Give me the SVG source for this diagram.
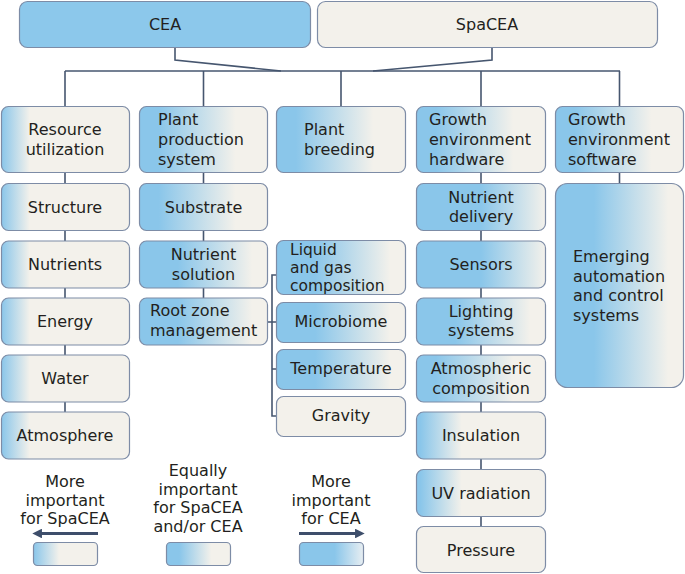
<svg xmlns="http://www.w3.org/2000/svg" width="685" height="574" viewBox="0 0 685 574">
<defs>
<style>
.bx{stroke:#7d8ca6;stroke-width:1.2}
.t{font-family:"DejaVu Sans","Noto Sans",sans-serif;font-size:16px;fill:#231f20}
.s{font-size:15.5px}
.c{text-anchor:middle}
.ln{fill:none;stroke:#46566f;stroke-width:1.6}
.ar{fill:none;stroke:#3e4e6b;stroke-width:3}
</style>
<linearGradient id="gA"><stop offset="0" stop-color="#8ac6ea"/><stop offset="0.22" stop-color="#f3f1eb"/></linearGradient>
<linearGradient id="gB"><stop offset="0.03" stop-color="#8ac6ea"/><stop offset="0.35" stop-color="#f3f1eb"/></linearGradient>
<linearGradient id="gC"><stop offset="0.15" stop-color="#8ac6ea"/><stop offset="0.75" stop-color="#f3f1eb"/></linearGradient>
<linearGradient id="gD"><stop offset="0.3" stop-color="#8ac6ea"/><stop offset="0.88" stop-color="#f3f1eb"/></linearGradient>
<linearGradient id="gE"><stop offset="0.5" stop-color="#8ac6ea"/><stop offset="1" stop-color="#f3f1eb"/></linearGradient>
<linearGradient id="lgL"><stop offset="0" stop-color="#8ac6ea"/><stop offset="0.4" stop-color="#f3f1eb"/></linearGradient>
<linearGradient id="lgM"><stop offset="0.2" stop-color="#8ac6ea"/><stop offset="0.7" stop-color="#f3f1eb"/></linearGradient>
<linearGradient id="lgR"><stop offset="0.55" stop-color="#8ac6ea"/><stop offset="1" stop-color="#e8eef2"/></linearGradient>
<marker id="ah" viewBox="0 0 10 10" refX="2" refY="5" markerWidth="3.2" markerHeight="3.2" orient="auto-start-reverse"><path d="M0,0 L10,5 L0,10 Z" fill="#3e4e6b"/></marker>
</defs>
<rect width="685" height="574" fill="#ffffff"/>

<g id="connectors">
<path class="ln" d="M175,47 V60 L281,71 M492,47 V60 L373,71"/>
<path class="ln" d="M65,71 H620"/>
<path class="ln" d="M65,71 V412"/>
<path class="ln" d="M203.5,71 V298"/>
<path class="ln" d="M341,71 V106"/>
<path class="ln" d="M481,71 V527"/>
<path class="ln" d="M619.5,71 V183"/>
<path class="ln" d="M277,275 H272 V416 H277 M268,322 H277 M272,369 H277"/>
</g>

<g id="cea"><rect class="bx" x="19.5" y="1.5" width="291" height="46" rx="8" fill="#8cc8eb"/><text class="t c" x="165" y="30">CEA</text></g>
<g id="spacea"><rect class="bx" x="317.5" y="1.5" width="340" height="46" rx="8" fill="#f3f1eb"/><text class="t c" x="487" y="30">SpaCEA</text></g>

<g id="resource"><rect class="bx" x="1.5" y="106.5" width="128" height="66" rx="7" fill="url(#gA)"/><text class="t c" x="65" y="135">Resource</text><text class="t c" x="65" y="155">utilization</text></g>
<g id="structure"><rect class="bx" x="1.5" y="183.5" width="128" height="47" rx="7" fill="url(#gA)"/><text class="t c" x="65" y="212.5">Structure</text></g>
<g id="nutrients"><rect class="bx" x="1.5" y="241" width="128" height="47" rx="7" fill="url(#gA)"/><text class="t c" x="65" y="270">Nutrients</text></g>
<g id="energy"><rect class="bx" x="1.5" y="298" width="128" height="47" rx="7" fill="url(#gA)"/><text class="t c" x="65" y="327">Energy</text></g>
<g id="water"><rect class="bx" x="1.5" y="355" width="128" height="47" rx="7" fill="url(#gA)"/><text class="t c" x="65" y="384">Water</text></g>
<g id="atmosphere"><rect class="bx" x="1.5" y="412" width="128" height="47" rx="7" fill="url(#gA)"/><text class="t c" x="65" y="441">Atmosphere</text></g>

<g id="plantprod"><rect class="bx" x="139.5" y="106.5" width="128" height="66" rx="7" fill="url(#gC)"/><text class="t" x="158" y="125">Plant</text><text class="t" x="158" y="145">production</text><text class="t" x="158" y="165">system</text></g>
<g id="substrate"><rect class="bx" x="139.5" y="183.5" width="128" height="47" rx="7" fill="url(#gC)"/><text class="t c" x="203.5" y="212.5">Substrate</text></g>
<g id="nutsol"><rect class="bx" x="139.5" y="241" width="128" height="47" rx="7" fill="url(#gD)"/><text class="t c" x="203.5" y="260">Nutrient</text><text class="t c" x="203.5" y="279.5">solution</text></g>
<g id="rootzone"><rect class="bx" x="139.5" y="298" width="128" height="47" rx="7" fill="url(#gD)"/><text class="t" x="150" y="316">Root zone</text><text class="t" x="150" y="335.5">management</text></g>

<g id="breeding"><rect class="bx" x="276.5" y="106.5" width="129" height="66" rx="7" fill="url(#gC)"/><text class="t" x="304" y="135">Plant</text><text class="t" x="304" y="155">breeding</text></g>
<g id="liquid"><rect class="bx" x="276.5" y="240.5" width="129" height="54" rx="7" fill="url(#gD)"/><text class="t s" x="290" y="254.8">Liquid</text><text class="t s" x="290" y="272.9">and gas</text><text class="t s" x="290" y="291">composition</text></g>
<g id="microbiome"><rect class="bx" x="276.5" y="302.5" width="129" height="40" rx="7" fill="url(#gD)"/><text class="t c" x="341" y="327">Microbiome</text></g>
<g id="temperature"><rect class="bx" x="276.5" y="349.5" width="129" height="40" rx="7" fill="url(#gD)"/><text class="t c" x="341" y="373.5">Temperature</text></g>
<g id="gravity"><rect class="bx" x="276.5" y="396.5" width="129" height="40" rx="7" fill="#f3f1eb"/><text class="t c" x="341" y="420.5">Gravity</text></g>

<g id="hardware"><rect class="bx" x="416.5" y="106.5" width="129" height="66" rx="7" fill="url(#gC)"/><text class="t" x="429" y="125">Growth</text><text class="t" x="429" y="145">environment</text><text class="t" x="429" y="164.5">hardware</text></g>
<g id="nutdel"><rect class="bx" x="416.5" y="183.5" width="129" height="47" rx="7" fill="url(#gE)"/><text class="t c" x="481" y="202.5">Nutrient</text><text class="t c" x="481" y="222">delivery</text></g>
<g id="sensors"><rect class="bx" x="416.5" y="241" width="129" height="47" rx="7" fill="url(#gE)"/><text class="t c" x="481" y="269.5">Sensors</text></g>
<g id="lighting"><rect class="bx" x="416.5" y="298" width="129" height="47" rx="7" fill="url(#gD)"/><text class="t c" x="481" y="317">Lighting</text><text class="t c" x="481" y="336">systems</text></g>
<g id="atmcomp"><rect class="bx" x="416.5" y="355" width="129" height="47" rx="7" fill="url(#gC)"/><text class="t c" x="481" y="374">Atmospheric</text><text class="t c" x="481" y="393.5">composition</text></g>
<g id="insulation"><rect class="bx" x="416.5" y="412" width="129" height="47" rx="7" fill="url(#gB)"/><text class="t c" x="481" y="440.5">Insulation</text></g>
<g id="uv"><rect class="bx" x="416.5" y="469.5" width="129" height="47" rx="7" fill="url(#gB)"/><text class="t c" x="481" y="498.5">UV radiation</text></g>
<g id="pressure"><rect class="bx" x="416.5" y="526.5" width="129" height="46" rx="7" fill="#f3f1eb"/><text class="t c" x="481" y="556">Pressure</text></g>

<g id="software"><rect class="bx" x="555.5" y="106.5" width="128" height="66" rx="7" fill="url(#gC)"/><text class="t" x="568" y="125">Growth</text><text class="t" x="568" y="145">environment</text><text class="t" x="568" y="164.5">software</text></g>
<g id="emerging"><rect class="bx" x="555.5" y="183.5" width="128" height="204" rx="12" fill="url(#gD)"/><text class="t" x="573" y="262">Emerging</text><text class="t" x="573" y="281.5">automation</text><text class="t" x="573" y="301">and control</text><text class="t" x="573" y="320.5">systems</text></g>

<g id="legend-spacea"><text class="t c" x="65" y="487">More</text><text class="t c" x="65" y="505.7">important</text><text class="t c" x="65" y="524.4">for SpaCEA</text><path class="ar" d="M98,533.5 H40" marker-end="url(#ah)"/><rect class="bx" x="33.5" y="542.5" width="64" height="23" rx="4" fill="url(#lgL)"/></g>
<g id="legend-equal"><text class="t c" x="198" y="476">Equally</text><text class="t c" x="198" y="494.7">important</text><text class="t c" x="198" y="513.4">for SpaCEA</text><text class="t c" x="198" y="532.1">and/or CEA</text><rect class="bx" x="166.5" y="542.5" width="64" height="23" rx="4" fill="url(#lgM)"/></g>
<g id="legend-cea"><text class="t c" x="331" y="487">More</text><text class="t c" x="331" y="505.7">important</text><text class="t c" x="331" y="524.4">for CEA</text><path class="ar" d="M299,533.5 H357" marker-end="url(#ah)"/><rect class="bx" x="299.5" y="542.5" width="64" height="23" rx="4" fill="url(#lgR)"/></g>
</svg>
